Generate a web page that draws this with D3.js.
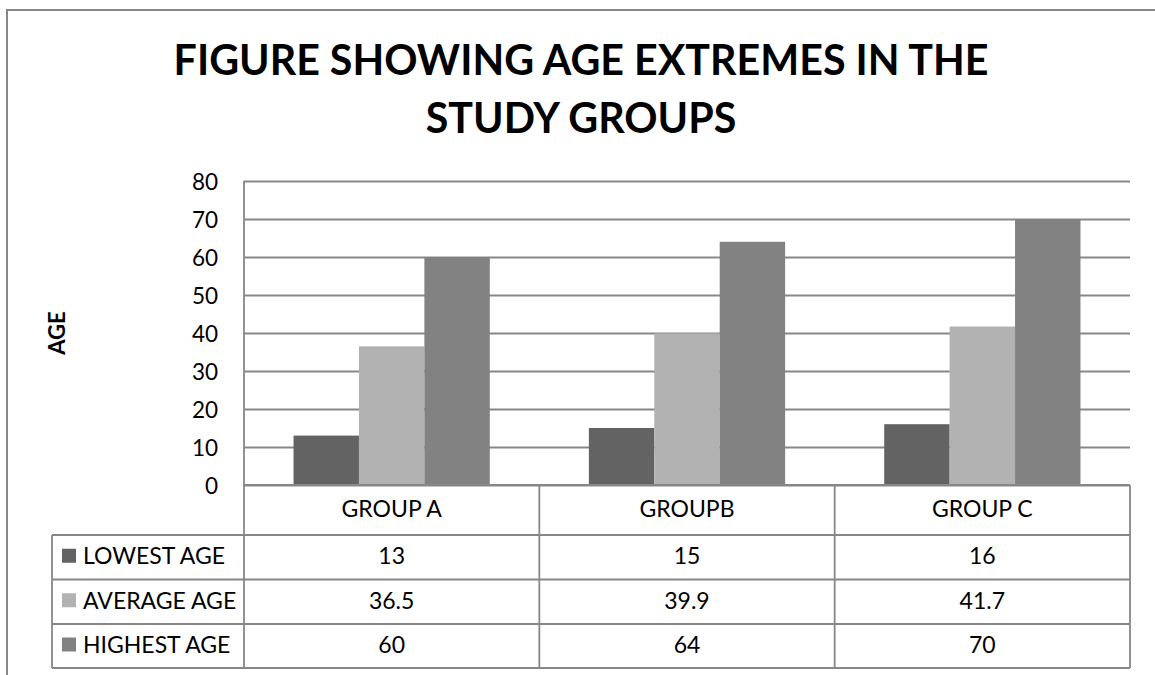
<!DOCTYPE html>
<html>
<head>
<meta charset="utf-8">
<script src="https://cdn.jsdelivr.net/npm/d3@7"></script>
<style>
  html, body { margin: 0; padding: 0; background: #fff; }
  svg { display: block; }
</style>
</head>
<body>
<svg id="chart" width="1155" height="675"></svg>
<script>
// Age figures per study group
const groups = ["GROUP A", "GROUPB", "GROUP C"];
const seriesNames = ["LOWEST AGE", "AVERAGE AGE", "HIGHEST AGE"];
const lowestAge = [13, 15, 16];
const averageAge = [36.5, 39.9, 41.7];
const highestAge = [60, 64, 70];
const yTicks = [0, 10, 20, 30, 40, 50, 60, 70, 80];
const titleLines = ["FIGURE SHOWING AGE EXTREMES IN THE", "STUDY GROUPS"];
const yTitle = "AGE";
const seriesColors = ["#636363", "#b2b2b2", "#828282"];

const seriesValues = [lowestAge, averageAge, highestAge];
const series = seriesNames.map((name, i) => ({
  name, color: seriesColors[i],
  values: groups.map((g, j) => ({ group: g, value: seriesValues[i][j] }))
}));

const svg = d3.select("#chart");
const W = 1155, H = 675;
const FONT = "Lato, 'Open Sans', sans-serif";
const LINE = "#878787";

const plot = { left: 244, right: 1130, top: 181, bottom: 485 };
const rowTops = [485, 535, 579.5, 624, 668];   // header row + three series rows
const tableLeft = 52;

// outer chart frame (runs past the right and bottom of the view)
svg.append("rect")
  .attr("x", 7).attr("y", 10).attr("width", W + 10).attr("height", H + 10)
  .attr("fill", "#fff").attr("stroke", LINE).attr("stroke-width", 2);

// scales
const y = d3.scaleLinear().domain([0, 80]).range([plot.bottom, plot.top]);
const x0 = d3.scaleBand().domain(groups).range([plot.left, plot.right]).padding(0);
const x1 = d3.scaleBand().domain(seriesNames).range([0, x0.bandwidth()])
  .paddingInner(0).paddingOuter(0.757);

// gridlines + tick labels
const yAxis = d3.axisLeft(y).tickValues(yTicks)
  .tickSizeInner(-(plot.right - plot.left)).tickSizeOuter(0).tickPadding(26);
const ga = svg.append("g").attr("transform", `translate(${plot.left},0)`).call(yAxis);
ga.select(".domain").remove();
ga.selectAll(".tick line").attr("stroke", LINE).attr("stroke-width", 1.8);
ga.selectAll(".tick text")
  .attr("font-family", FONT).attr("font-size", 22.5).attr("fill", "#000")
  .attr("dy", "0.36em");

// bars
svg.append("g").selectAll("g").data(series).join("g")
  .attr("fill", d => d.color)
  .selectAll("rect").data(d => d.values.map(v => ({ ...v, name: d.name }))).join("rect")
  .attr("x", d => x0(d.group) + x1(d.name))
  .attr("width", x1.bandwidth())
  .attr("y", d => y(d.value))
  .attr("height", d => y(0) - y(d.value));

// data table lines
const tl = svg.append("g").attr("stroke", LINE).attr("stroke-width", 1.8).attr("fill", "none");
tl.append("line").attr("x1", plot.left).attr("x2", plot.right).attr("y1", rowTops[0]).attr("y2", rowTops[0]);
rowTops.slice(1).forEach(t => {
  tl.append("line").attr("x1", tableLeft).attr("x2", plot.right).attr("y1", t).attr("y2", t);
});
tl.append("line").attr("x1", plot.left).attr("x2", plot.left).attr("y1", plot.top).attr("y2", rowTops[4]);
tl.append("line").attr("x1", tableLeft).attr("x2", tableLeft).attr("y1", rowTops[1]).attr("y2", rowTops[4]);
groups.forEach(g => {
  const xr = x0(g) + x0.bandwidth();
  tl.append("line").attr("x1", xr).attr("x2", xr).attr("y1", rowTops[0]).attr("y2", rowTops[4]);
});

const TS = 23;          // table font size
const cap = TS * 0.72;  // approximate cap height
const baseline = (top, bottom) => (top + bottom) / 2 - 1.5 + cap / 2;

// category header row
svg.append("g").selectAll("text").data(groups).join("text")
  .attr("x", g => x0(g) + x0.bandwidth() / 2)
  .attr("y", baseline(rowTops[0], rowTops[1]))
  .attr("text-anchor", "middle")
  .attr("font-family", FONT).attr("font-size", TS).attr("fill", "#000")
  .text(g => g);

// series rows: legend key, name, values
series.forEach((s, i) => {
  const top = rowTops[i + 1], bottom = rowTops[i + 2];
  const mid = (top + bottom) / 2 - 1.5;
  svg.append("rect").attr("x", 62).attr("y", mid - 7).attr("width", 14).attr("height", 14)
    .attr("fill", s.color);
  svg.append("text").attr("x", 83).attr("y", baseline(top, bottom))
    .attr("font-family", FONT).attr("font-size", TS).attr("fill", "#000")
    .text(s.name);
  svg.append("g").selectAll("text").data(s.values).join("text")
    .attr("x", d => x0(d.group) + x0.bandwidth() / 2)
    .attr("y", baseline(top, bottom))
    .attr("text-anchor", "middle")
    .attr("font-family", FONT).attr("font-size", TS).attr("fill", "#000")
    .text(d => d.value);
});

// axis title
svg.append("text")
  .attr("transform", "translate(65,333) rotate(-90)")
  .attr("text-anchor", "middle")
  .attr("font-family", FONT).attr("font-weight", "bold").attr("font-size", 22)
  .attr("fill", "#000")
  .text(yTitle);

// chart title, sized so the first line spans its measured width
const titleG = svg.append("g");
const tLines = titleG.selectAll("text").data(titleLines).join("text")
  .attr("x", 581)
  .attr("y", (d, i) => 75 + i * 58)
  .attr("text-anchor", "middle")
  .attr("font-family", FONT).attr("font-weight", "bold").attr("font-size", 40)
  .attr("fill", "#000")
  .text(d => d);
const w0 = tLines.nodes()[0].getComputedTextLength();
const titleSize = 40 * 815 / w0;
tLines.attr("font-size", titleSize.toFixed(2));
</script>
</body>
</html>
